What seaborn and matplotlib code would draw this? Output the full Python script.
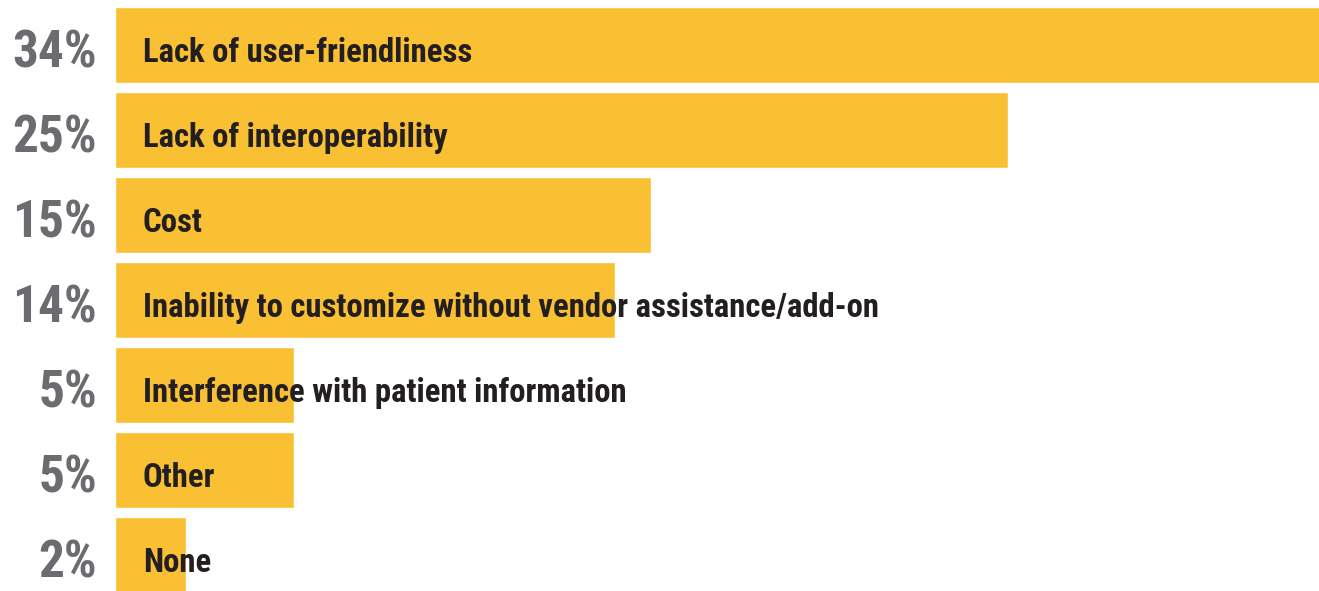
import matplotlib
matplotlib.use('Agg')
import matplotlib.pyplot as plt
from matplotlib import font_manager as fm
import seaborn as sns
import pandas as pd

sns.set_theme(style='white')

# Dar (condensed) bir yazı tipi bul, yoksa Liberation Sans kullan
adlar = sorted({f.name for f in fm.fontManager.ttflist})
tercih = ['Liberation Sans Narrow', 'Roboto Condensed', 'DejaVu Sans Condensed',
          'Open Sans Condensed', 'Noto Sans Condensed']
dar = [a for a in tercih if a in adlar]
dar += [a for a in adlar if ('Narrow' in a or 'Condensed' in a) and a not in dar]
font = dar[0] if dar else 'Liberation Sans'
plt.rcParams['font.family'] = [font, 'DejaVu Sans']

# Veriler
kategoriler = ['Lack of user-friendliness', 'Lack of interoperability', 'Cost',
               'Inability to customize without vendor assistance/add-on',
               'Interference with patient information', 'Other', 'None']
yuzdeler = [34, 25, 15, 14, 5, 5, 2]
etiketler = ['34%', '25%', '15%', '14%', '5%', '5%', '2%']

df = pd.DataFrame({'kategori': kategoriler, 'yuzde': yuzdeler})

fig = plt.figure(figsize=(13.19, 5.91), dpi=100)
ax = fig.add_axes([0, 0, 1, 1])

sns.barplot(x='yuzde', y='kategori', data=df, color='#F9C033', saturation=1,
            width=0.894, orient='h', ax=ax)

ax.set_xlim(-3.22, 33.71)
ax.set_ylim(6.424, -0.529)

yuzde_yazi = []
kat_yazi = []
for i, (kat, et) in enumerate(zip(kategoriler, etiketler)):
    yuzde_yazi.append(ax.text(-0.5, i + 0.27, et, ha='right', va='baseline', fontsize=37,
                              fontweight='bold', color='#6E6B70'))
    kat_yazi.append(ax.text(0.78, i + 0.195, kat, ha='left', va='baseline', fontsize=27,
                            fontweight='bold', color='#231F20'))

# Yazı boyutunu referans genişliğe göre ayarla
fig.canvas.draw()
r = fig.canvas.get_renderer()
w1 = yuzde_yazi[0].get_window_extent(r).width
w2 = kat_yazi[3].get_window_extent(r).width
s1 = min(37, 37 * 86 / w1)
s2 = min(27, 27 * 738 / w2)
for t in yuzde_yazi:
    t.set_fontsize(s1)
for t in kat_yazi:
    t.set_fontsize(s2)

ax.axis('off')
fig.savefig('out.png', dpi=100)
